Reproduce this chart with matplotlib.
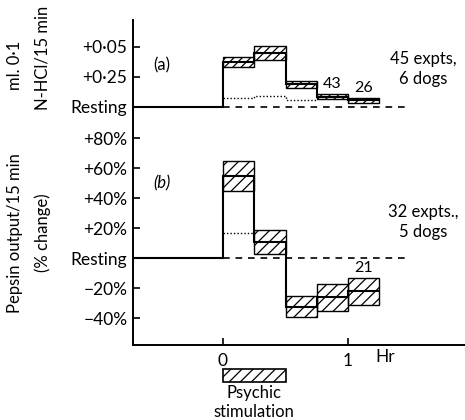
import matplotlib
matplotlib.use("Agg")
import matplotlib.pyplot as plt
from matplotlib.patches import Rectangle

plt.rcParams['font.family'] = ['Lato', 'DejaVu Sans']
plt.rcParams['hatch.linewidth'] = 0.9

# time blocks (hr), 15 min each, starting at stimulation
edges = [0.0, 0.25, 0.5, 0.75, 1.0, 1.25]

# (a) acid output, ml 0.1 N-HCl/15 min above resting
acid_mean = [0.0375, 0.045, 0.019, 0.0085, 0.0055]
acid_se = [0.0045, 0.0055, 0.003, 0.002, 0.0022]
acid_dotted = [0.0075, 0.009, 0.006]
acid_counts = {3: "43", 4: "26"}

# (b) pepsin output, % change from resting
pep_mean = [55.0, 11.0, -32.5, -26.0, -22.0]
pep_se = [10.0, 8.0, 7.0, 9.0, 9.0]
pep_dotted = [17.0]
pep_counts = {4: "21"}

stim_start, stim_end = 0.0, 0.5
dash_end = 1.47

a_ticks = [0.05, 0.025, 0.0]
a_labels = ["+0·05", "+0·25", "Resting"]
b_ticks = [80, 60, 40, 20, 0, -20, -40]
b_labels = ["+80%", "+60%", "+40%", "+20%", "Resting", "−20%", "−40%"]

# panel (a) sits above panel (b) on the same axis: 0.025 ml spans 20 %
A_BASE = 100.7
A_SCALE = 800.0


def to_a(v):
    return A_BASE + v * A_SCALE


fig = plt.figure(figsize=(4.65, 4.2), dpi=100)
ax = fig.add_axes([133 / 465, 75 / 420, 332 / 465, 325 / 420])
ax.set_xlim(-0.72, 1.936)
ax.set_ylim(-58, 158.7)

for side in ['top', 'right']:
    ax.spines[side].set_visible(False)
for side in ['left', 'bottom']:
    ax.spines[side].set_linewidth(1.4)

xl = ax.get_xlim()[0]


def draw_panel(mean, se, dotted, counts, base_fn, hatch):
    lows = [base_fn(m - s) for m, s in zip(mean, se)]
    highs = [base_fn(m + s) for m, s in zip(mean, se)]
    widths = [edges[i + 1] - edges[i] for i in range(len(mean))]
    ax.bar(edges[:-1], [h - l for h, l in zip(highs, lows)], bottom=lows,
           width=widths, align='edge', fill=False, hatch=hatch,
           edgecolor='black', linewidth=1.0)
    # mean line, continuing from the resting level
    ax.stairs([base_fn(0)] + [base_fn(m) for m in mean], [xl] + edges,
              baseline=None, color='black', linewidth=1.5)
    ax.stairs([base_fn(d) for d in dotted], edges[:len(dotted) + 1],
              baseline=None, color='black', linewidth=1.0, linestyle=(0, (1, 1.5)))
    ax.plot([0, dash_end], [base_fn(0), base_fn(0)], color='black',
            linewidth=1.2, linestyle=(0, (4, 3.5)))
    for i, txt in counts.items():
        ax.text((edges[i] + edges[i + 1]) / 2, highs[i] + 2, txt,
                ha='center', va='bottom', fontsize=11.5)


draw_panel(acid_mean, acid_se, acid_dotted, acid_counts, to_a, '////')
draw_panel(pep_mean, pep_se, pep_dotted, pep_counts, lambda v: v, '///')

# y ticks for both panels
ax.set_yticks([to_a(v) for v in a_ticks] + b_ticks)
ax.set_yticklabels(a_labels + b_labels)
ax.set_xticks([0, 1])
ax.set_xticklabels(["0", "1"])
ax.tick_params(direction='in', length=5, width=1.2, labelsize=12.5, pad=4)
ax.tick_params(axis='x', pad=6)
ax.text(1.3, -61, "Hr", ha='center', va='top', fontsize=12.5, clip_on=False)

ax.text(-0.49, to_a(0.035), "(a)", fontsize=12, ha='center', va='center')
ax.text(-0.49, 50, "(b)", fontsize=12, ha='center', va='center', style='italic')
ax.text(1.6, to_a(0.032), "45 expts,\n6 dogs", fontsize=12, ha='center',
        va='center', linespacing=1.3)
ax.text(1.6, 24, "32 expts.,\n5 dogs", fontsize=12, ha='center',
        va='center', linespacing=1.3)

# stimulation bar under the time axis
ax.add_patch(Rectangle((stim_start, -82.5), stim_end - stim_start, 8.5,
                       fill=False, hatch='///', edgecolor='black',
                       linewidth=1.2, clip_on=False))
ax.text((stim_start + stim_end) / 2, -90, "Psychic", fontsize=12,
        ha='center', va='center', clip_on=False)
ax.text((stim_start + stim_end) / 2, -103, "stimulation", fontsize=12,
        ha='center', va='center', clip_on=False)

# axis titles
fig.text(15 / 465, 1 - 65 / 420, "ml. 0·1", rotation=90, fontsize=12,
         ha='center', va='center')
fig.text(43 / 465, 1 - 58 / 420, "N-HCl/15 min", rotation=90, fontsize=12,
         ha='center', va='center')
fig.text(15 / 465, 1 - 233 / 420, "Pepsin output/15 min", rotation=90,
         fontsize=12, ha='center', va='center')
fig.text(43 / 465, 1 - 233 / 420, "(% change)", rotation=90, fontsize=12,
         ha='center', va='center')

fig.savefig("out.png", dpi=100)
